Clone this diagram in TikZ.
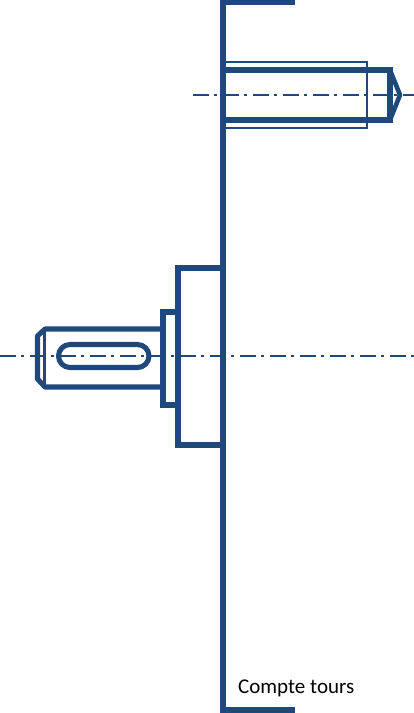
\documentclass[tikz,border=0pt]{standalone}
\usepackage{fontspec}
\setmainfont{Carlito}
\definecolor{steel}{HTML}{1F497D}
\tikzset{
  thick part/.style={draw=steel,line width=5.4pt,line join=miter},
  medium part/.style={draw=steel,line width=5.1pt,line join=round},
  thin part/.style={draw=steel,line width=1.7pt},
  axis line/.style={draw=steel,line width=2.2pt,dash pattern=on 16pt off 5pt on 3pt off 6pt},
  caption/.style={text=black,font=\fontsize{21}{25}\selectfont,anchor=base west,inner sep=0pt}
}
\begin{document}
\begin{tikzpicture}[x=1pt,y=-1pt]
\useasboundingbox (0,0) rectangle (414,713);
% thin thread outline
\draw[thin part] (223,62) -- (367,62) -- (367,128) -- (223,128);
% plate
\draw[thick part] (295,2.5) -- (223,2.5) -- (223,710) -- (295,710);
% bolt
\draw[thick part] (223,70) -- (390,70) -- (390,120) -- (223,120);
\draw[thick part,line width=4.6pt,line join=round] (390,70) -- (400,95) -- (390,120);
% flange and boss
\draw[medium part,line join=miter] (223,268) -- (178,268) -- (178,445) -- (223,445);
\draw[medium part,line join=miter] (178,312) -- (163,312) -- (163,405) -- (178,405);
% shaft
\draw[medium part] (163,329) -- (45,329) -- (37.5,336) -- (37.5,379) -- (45,387) -- (163,387);
\draw[thin part,line width=2.4pt] (44.5,331) -- (44.5,385);
% keyway
\draw[medium part] (70,344.5) -- (137.5,344.5) arc[start angle=-90,end angle=90,radius=11.5] -- (70,367.5) arc[start angle=90,end angle=270,radius=11.5] -- cycle;
% axes
\draw[axis line] (193,95) -- (414,95);
\draw[axis line] (0,356) -- (414,356);
\node[caption] (label) at (238,693.5) {Compte tours};
\end{tikzpicture}
\end{document}
